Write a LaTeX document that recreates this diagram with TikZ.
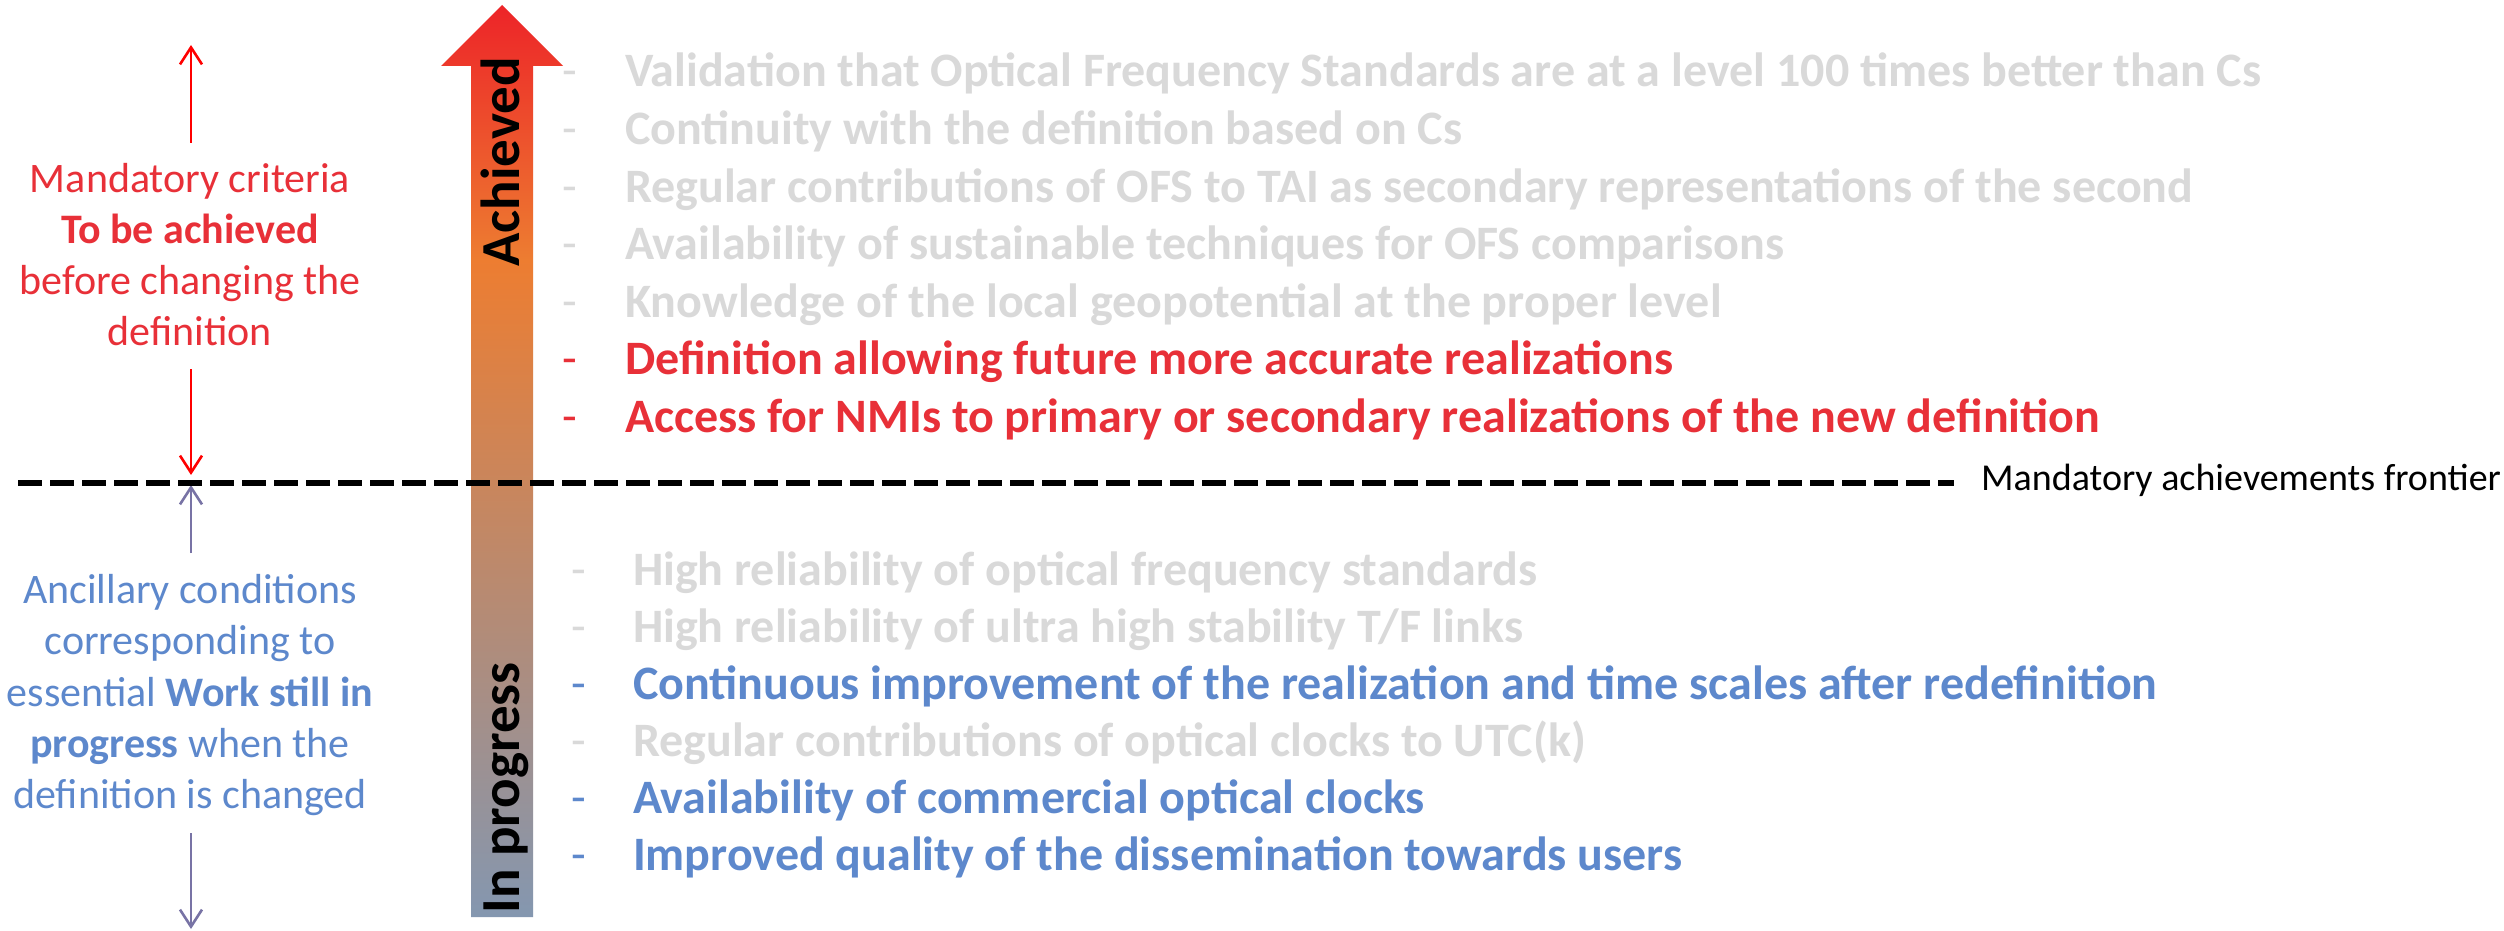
\documentclass[tikz,border=0pt]{standalone}
\usepackage{fontspec}
\setmainfont{Carlito}
\usetikzlibrary{arrows.meta}
\definecolor{gtext}{RGB}{217,217,217}
\definecolor{rtext}{RGB}{232,48,56}
\definecolor{btext}{RGB}{93,136,204}
\definecolor{redline}{RGB}{255,0,0}
\definecolor{blueline}{RGB}{120,115,165}
\definecolor{cR}{RGB}{237,36,40}
\definecolor{cO}{RGB}{237,125,49}
\definecolor{cB}{RGB}{132,151,176}
\pgfdeclareverticalshading{bigarrowshade}{100bp}{color(0bp)=(cB); color(25bp)=(cB); color(61bp)=(cO); color(75bp)=(cR); color(100bp)=(cR)}
\tikzset{
  listtext/.style={font=\fontsize{48}{56}\selectfont\bfseries, anchor=base west, inner sep=0pt, outer sep=0pt},
  listdash/.style={font=\fontsize{48}{56}\selectfont, anchor=base west, inner sep=0pt, outer sep=0pt},
  sidetext/.style={font=\fontsize{42}{50}\selectfont, anchor=base, inner sep=0pt, outer sep=0pt},
  arrowtext/.style={font=\fontsize{55}{60}\selectfont\bfseries, rotate=90, anchor=base, inner sep=0pt},
  thinarrow/.style={line width=2.6pt, -{Straight Barb[length=17pt,width=22pt]}},
  frontier/.style={line width=6pt, dash pattern=on 24pt off 8pt}
}
\begin{document}
\begin{tikzpicture}[x=1pt,y=-1pt]
\useasboundingbox (0,0) rectangle (2504,931);
\fill[white] (0,0) rectangle (2504,931);

% big gradient arrow
\path[shading=bigarrowshade] (471,917) -- (471,66) -- (441,66) -- (502,5) -- (563,66) -- (533,66) -- (533,917) -- cycle;
\node[arrowtext] (achv) at (519,162) {Achieved};
\node[arrowtext] (inprog) at (519,788) {In progress};

% upper list
\foreach \n/\t/\c [count=\k from 0] in {
  u1/{Validation that Optical Frequency Standards are at a level 100 times better than Cs}/gtext,
  u2/{Continuity with the definition based on Cs}/gtext,
  u3/{Regular contributions of OFS to TAI as secondary representations of the second}/gtext,
  u4/{Availability of sustainable techniques for OFS comparisons}/gtext,
  u5/{Knowledge of the local geopotential at the proper level}/gtext,
  u6/{Definition allowing future more accurate realizations}/rtext,
  u7/{Access for NMIs to primary or secondary realizations of the new definition}/rtext}{
  \node[listdash, text=\c] (\n d) at (562,87+57.5*\k) {-};
  \node[listtext, text=\c] (\n) at (625,87+57.5*\k) {\t};
}

% lower list
\foreach \n/\t/\c [count=\k from 0] in {
  l1/{High reliability of optical frequency standards}/gtext,
  l2/{High reliability of ultra high stability T/F links}/gtext,
  l3/{Continuous improvement of the realization and time scales after redefinition}/btext,
  l4/{Regular contributions of optical clocks to UTC(k)}/gtext,
  l5/{Availability of commercial optical clocks}/btext,
  l6/{Improved quality of the dissemination towards users}/btext}{
  \node[listdash, text=\c] (\n d) at (571,585+57*\k) {-};
  \node[listtext, text=\c] (\n) at (633,585+57*\k) {\t};
}

% left red text
\node[sidetext, text=rtext] (r1) at (190,193) {Mandatory criteria};
\node[sidetext, text=rtext] (r2) at (190,243.5) {\textbf{To be achieved}};
\node[sidetext, text=rtext] (r3) at (190,294.5) {before changing the};
\node[sidetext, text=rtext] (r4) at (190,345) {definition};

% left blue text
\node[sidetext, text=btext] (b1) at (190,603.5) {Ancillary conditions};
\node[sidetext, text=btext] (b2) at (190,654.5) {corresponding to};
\node[sidetext, text=btext] (b3) at (190,706) {essential \textbf{Work still in}};
\node[sidetext, text=btext] (b4) at (190,757) {\textbf{progress} when the};
\node[sidetext, text=btext] (b5) at (190,808) {definition is changed};

% side arrows
\coordinate (ra1) at (191,143); \coordinate (rb1) at (191,45);
\coordinate (ra2) at (191,369); \coordinate (rb2) at (191,475);
\coordinate (ba1) at (191,553); \coordinate (bb1) at (191,485);
\coordinate (ba2) at (191,833); \coordinate (bb2) at (191,929);
\draw[thinarrow, redline] (ra1) -- (rb1);
\draw[thinarrow, redline] (ra2) -- (rb2);
\draw[thinarrow, blueline] (ba1) -- (bb1);
\draw[thinarrow, blueline] (ba2) -- (bb2);

% frontier
\coordinate (fs) at (18,483);
\coordinate (fe) at (1954,483);
\draw[frontier] (fs) -- (fe);
\node[font=\fontsize{38}{44}\selectfont, anchor=base west, inner sep=0pt] (flabel) at (1981,490) {Mandatory achievements frontier};
\end{tikzpicture}
\end{document}
